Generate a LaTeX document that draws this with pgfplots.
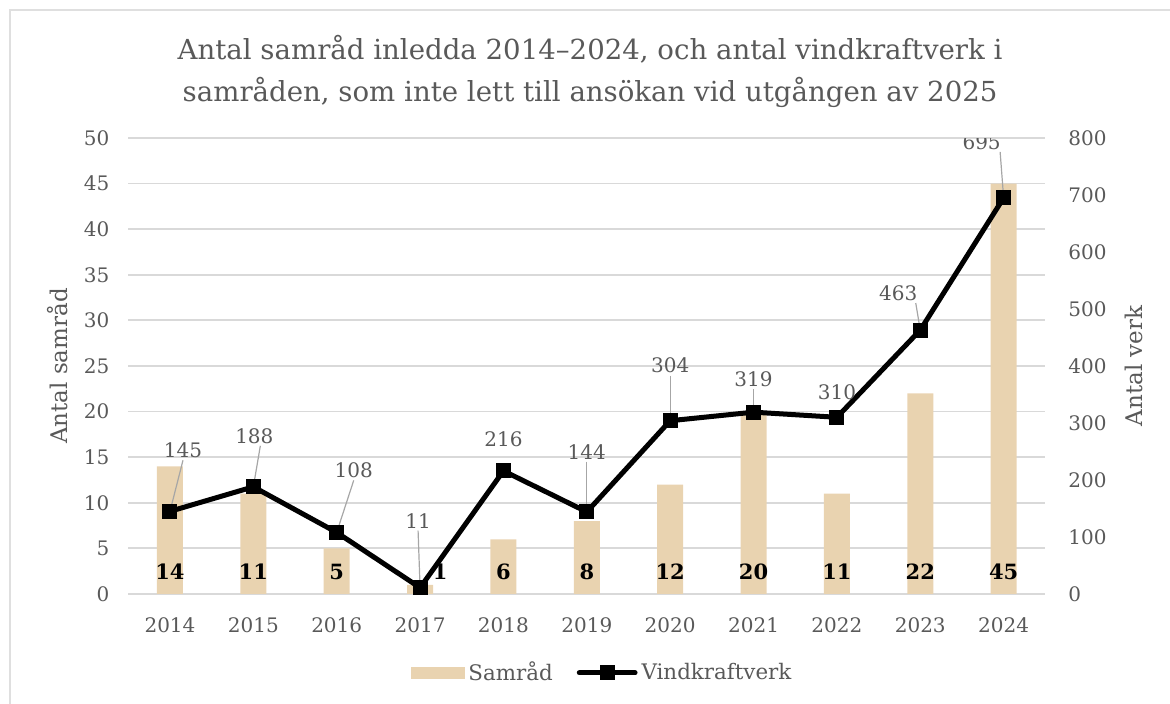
\documentclass[border=0pt]{standalone}
\usepackage{fontspec}
\setmainfont{DejaVu Serif}
\usepackage{pgfplots}
\usepackage{pgfplotstable}
\pgfplotsset{compat=1.18}
\definecolor{barc}{RGB}{233,211,176}
\definecolor{txt}{RGB}{89,89,89}
\definecolor{gridc}{RGB}{217,217,217}
\definecolor{lead}{RGB}{166,166,166}

\pgfplotstableread{
x year samrad verk dx
0 2014 14 145 0
1 2015 11 188 0
2 2016 5 108 0
3 2017 1 11 10
4 2018 6 216 0
5 2019 8 144 0
6 2020 12 304 0
7 2021 20 319 0
8 2022 11 310 0
9 2023 22 463 0
10 2024 45 695 0
}\data

\pgfplotsset{
  common/.style={
    scale only axis, width=458.5pt, height=228pt,
    at={(0,0)}, anchor=south west,
    xmin=-0.5, xmax=10.5,
    axis line style={draw=none},
    major tick length=0pt,
    /pgf/number format/assume math mode=true,
    tick label style={font=\fontsize{10}{12}\selectfont, text=txt},
    label style={font=\fontsize{11.5}{14}\selectfont, text=txt},
  },
  vklegend/.style={legend image code/.code={\draw[mark repeat=2, mark phase=2, ##1] plot coordinates {(0cm,0cm) (0.49cm,0cm) (0.98cm,0cm)};}},
  barlegend/.style={legend image code/.code={\fill[barc] (0cm,-0.1cm) rectangle (0.92cm,0.1cm);}},
}

\begin{document}
\begin{tikzpicture}
\useasboundingbox (-64.15pt,-55pt) rectangle (520.85pt,297pt);
\draw[gray!25, line width=1pt] (-59.15pt,-80pt) rectangle (560pt,292pt);
\node[font=\fontsize{13.8}{21}\selectfont, text=txt, align=center] at (230.9pt,261.5pt)
  {Antal samråd inledda 2014–2024, och antal vindkraftverk i\\samråden, som inte lett till ansökan vid utgången av 2025};

\begin{axis}[common,
  ymin=0, ymax=50, ytick={0,5,...,50},
  xtick={0,...,10},
  xticklabels={2014,2015,2016,2017,2018,2019,2020,2021,2022,2023,2024},
  xticklabel style={yshift=-8.5pt},
  yticklabel style={xshift=-6pt},
  ymajorgrids, grid style={gridc, line width=0.9pt},
  ylabel={Antal samråd},
  ylabel style={at={(axis description cs:0,0.5)}, anchor=center, yshift=35.6pt},
]
\addplot[ybar, bar width=13pt, fill=barc, draw=none] table[x=x, y=samrad]{\data};
\addplot[draw=none, mark=none, nodes near coords, point meta=explicit symbolic,
  visualization depends on={\thisrow{dx} \as \dxv},
  every node near coord/.append style={anchor=center, xshift=\dxv pt,
    font=\fontsize{10.5}{12}\selectfont\bfseries, text=black}]
  table[x=x, y expr=2.4, meta=samrad]{\data};
\end{axis}

\begin{axis}[common,
  ymin=0, ymax=800, ytick={0,100,...,800},
  axis x line=none,
  axis y line*=right,
  yticklabel style={xshift=8pt, anchor=west},
  ylabel={Antal verk},
  ylabel style={at={(axis description cs:1,0.5)}, anchor=center, yshift=-44.5pt},
  legend style={at={(0.518,-0.173)}, anchor=center, draw=none, fill=none,
    legend columns=2, font=\fontsize{10.7}{13}\selectfont, text=txt,
    /tikz/every even column/.append style={column sep=10pt}},
]
\addlegendimage{barlegend}
\addlegendentry{Samråd}
\addplot[black, line width=2.5pt, line join=round, line cap=round, mark=square*,
  mark size=3.5pt, mark options={line width=0pt}, vklegend]
  table[x=x, y=verk]{\data};
\addlegendentry{Vindkraftverk}

\begin{scope}[every node/.style={font=\fontsize{10}{12}\selectfont, text=txt, inner sep=1pt}]
\node (a0) at ([shift={(6.5pt,30.5pt)}]axis cs:0,145) {145};
\draw[lead, line width=0.6pt] (a0.south) -- (axis cs:0,145);
\node (a1) at ([shift={(0.5pt,25.5pt)}]axis cs:1,188) {188};
\draw[lead, line width=0.6pt] ([xshift=3pt]a1.south) -- (axis cs:1,188);
\node (a2) at ([shift={(8.5pt,31pt)}]axis cs:2,108) {108};
\draw[lead, line width=0.6pt] (a2.south) -- (axis cs:2,108);
\node (a3) at ([shift={(-1pt,33.5pt)}]axis cs:3,11) {11};
\draw[lead, line width=0.6pt] (a3.south) -- (axis cs:3,11);
\node (a4) at ([shift={(0pt,16pt)}]axis cs:4,216) {216};
\node (a5) at ([shift={(0pt,30pt)}]axis cs:5,144) {144};
\draw[lead, line width=0.6pt] (a5.south) -- (axis cs:5,144);
\node (a6) at ([shift={(0pt,27.5pt)}]axis cs:6,304) {304};
\draw[lead, line width=0.6pt] (a6.south) -- (axis cs:6,304);
\node (a7) at ([shift={(0pt,16.5pt)}]axis cs:7,319) {319};
\draw[lead, line width=0.6pt] (a7.south) -- (axis cs:7,319);
\node (a8) at ([shift={(0pt,12.5pt)}]axis cs:8,310) {310};
\node (a9) at ([shift={(-11pt,18.5pt)}]axis cs:9,463) {463};
\draw[lead, line width=0.6pt] ([xshift=-2pt]a9.south east) -- (axis cs:9,463);
\node (a10) at ([shift={(-11pt,28pt)}]axis cs:10,695) {695};
\draw[lead, line width=0.6pt] ([xshift=-1.5pt]a10.south east) -- (axis cs:10,695);
\end{scope}
\end{axis}
\end{tikzpicture}
\end{document}
